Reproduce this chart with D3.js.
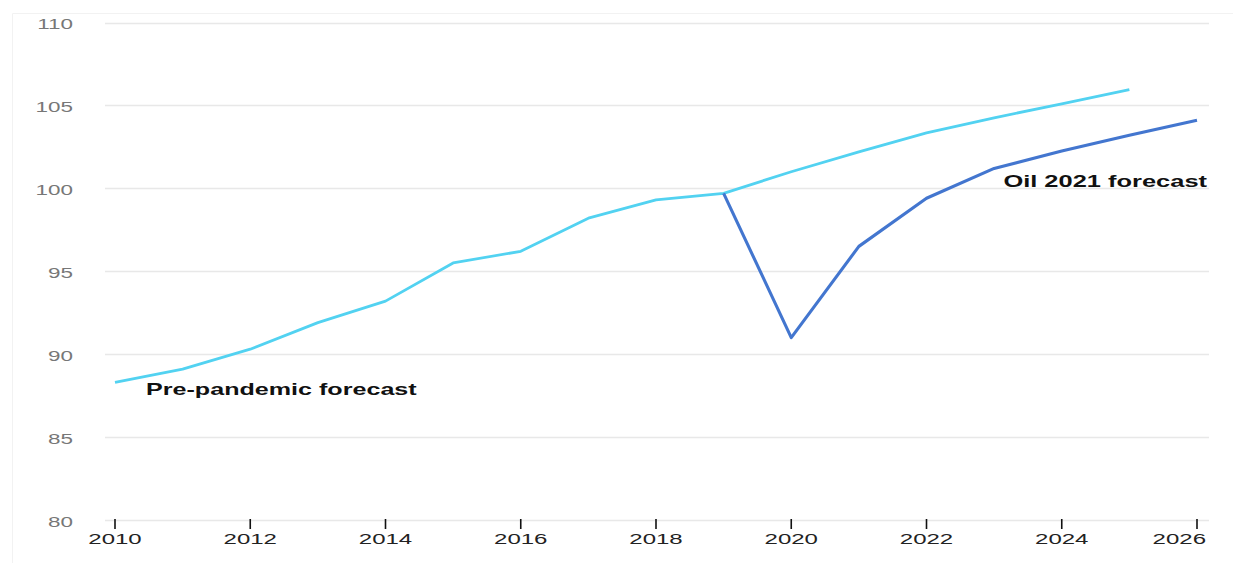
<!DOCTYPE html>
<html>
<head>
<meta charset="utf-8">
<script src="https://cdn.jsdelivr.net/npm/d3@7"></script>
<style>
  html, body { margin: 0; padding: 0; background: #fff; }
  svg { display: block; }
</style>
</head>
<body>
<svg id="chart" width="1233" height="563"></svg>
<script>
const years = [2010, 2011, 2012, 2013, 2014, 2015, 2016, 2017, 2018, 2019, 2020, 2021, 2022, 2023, 2024, 2025, 2026];
const prePandemicYears = [2010, 2011, 2012, 2013, 2014, 2015, 2016, 2017, 2018, 2019, 2020, 2021, 2022, 2023, 2024, 2025];
const prePandemicValues = [88.3, 89.1, 90.3, 91.9, 93.2, 95.5, 96.2, 98.2, 99.3, 99.7, 101.0, 102.2, 103.35, 104.25, 105.1, 105.95];
const oil2021Years = [2019, 2020, 2021, 2022, 2023, 2024, 2025, 2026];
const oil2021Values = [99.7, 91.0, 96.5, 99.4, 101.2, 102.25, 103.2, 104.1];
const yTicks = [80, 85, 90, 95, 100, 105, 110];
const xTicks = [2010, 2012, 2014, 2016, 2018, 2020, 2022, 2024, 2026];
const seriesNames = ["Pre-pandemic forecast", "Oil 2021 forecast"];

const svg = d3.select("#chart");
const SX = 1.6; // horizontal stretch of the original image text
const font = "'Liberation Sans', Arial, Helvetica, sans-serif";

const x = d3.scaleLinear().domain([2010, 2026]).range([115, 1197]);
const y = d3.scaleLinear().domain([80, 110]).range([520, 22.5]);

// faint frame
svg.append("path")
  .attr("d", "M12.5,563 L12.5,13.5 L1233,13.5")
  .attr("fill", "none").attr("stroke", "#f2f2f2").attr("stroke-width", 1);

// gridlines
svg.append("g").selectAll("line").data(yTicks).join("line")
  .attr("x1", 105).attr("x2", 1209)
  .attr("y1", d => Math.round(y(d)) + 0.5).attr("y2", d => Math.round(y(d)) + 0.5)
  .attr("stroke", "#e8e8e8").attr("stroke-width", 1.3);

function stretchedText(g, tx, ty, txt, opts) {
  const t = g.append("text")
    .attr("transform", `translate(${tx},${ty}) scale(${opts.sx || SX},1)`)
    .attr("text-anchor", opts.anchor || "start")
    .attr("font-family", font)
    .attr("font-size", opts.size)
    .attr("font-weight", opts.weight || "normal")
    .attr("fill", opts.fill || "#000")
    .text(txt);
  return t;
}

// y axis labels
const yg = svg.append("g");
yTicks.forEach(v => {
  stretchedText(yg, 73, y(v) + 6.5, String(v), {anchor: "end", size: 14.5, sx: 1.55, fill: "#777"});
});

// x axis ticks
const xg = svg.append("g");
xg.selectAll("line").data(xTicks).join("line")
  .attr("x1", d => x(d)).attr("x2", d => x(d))
  .attr("y1", 519).attr("y2", 529)
  .attr("stroke", "#111").attr("stroke-width", 1.6);
xTicks.forEach(v => {
  let cx = x(v);
  const halfW = 4 * 0.556 * 15.5 * 1.55 / 2;
  if (cx + halfW > 1206) cx = 1206 - halfW;
  stretchedText(xg, cx, 543.5, String(v), {anchor: "middle", size: 15.5, sx: 1.55, fill: "#222"});
});

// lines
const line = d3.line().x(d => x(d[0])).y(d => y(d[1]));
const preData = prePandemicYears.map((yr, i) => [yr, prePandemicValues[i]]);
const oilData = oil2021Years.map((yr, i) => [yr, oil2021Values[i]]);

svg.append("path").datum(preData)
  .attr("d", line).attr("fill", "none")
  .attr("stroke", "#52d2f1").attr("stroke-width", 2.8)
  .attr("stroke-linejoin", "round");

svg.append("path").datum(oilData)
  .attr("d", line).attr("fill", "none")
  .attr("stroke", "#4376cf").attr("stroke-width", 3.1)
  .attr("stroke-linejoin", "round");

// annotations
const ag = svg.append("g");
stretchedText(ag, 146, 395, seriesNames[0], {size: 16, weight: "bold", sx: 1.57, fill: "#111"});
stretchedText(ag, 1207, 187, seriesNames[1], {anchor: "end", size: 16, weight: "bold", sx: 1.59, fill: "#111"});
</script>
</body>
</html>
